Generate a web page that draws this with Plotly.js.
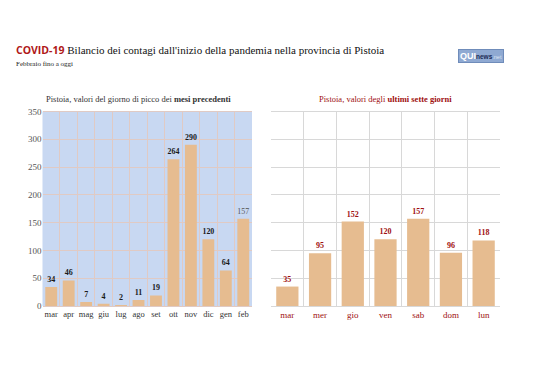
<!DOCTYPE html>
<html>
<head>
<meta charset="utf-8">
<script src="https://cdn.plot.ly/plotly-3.0.1.min.js"></script>
<style>html,body{margin:0;padding:0;background:#fff;}#chart{width:538px;height:380px;}</style>
</head>
<body>
<div id="chart"></div>
<script>
const monthLabels = ["mar","apr","mag","giu","lug","ago","set","ott","nov","dic","gen","feb"];
const monthValues = [34,46,7,4,2,11,19,264,290,120,64,157];
const dayLabels = ["mar","mer","gio","ven","sab","dom","lun"];
const dayValues = [35,95,152,120,157,96,118];
const yTicks = [0,50,100,150,200,250,300,350];

const W = 538, H = 380;
const px = x => x / W;
const py = y => 1 - y / H;
const serif = "Liberation Serif";
const barColor = "#e6bc90";

const monthText = monthValues.map((v,i) => i === monthValues.length - 1 ? String(v) : "<b>" + v + "</b>");
const monthTextColor = monthValues.map((v,i) => i === monthValues.length - 1 ? "#555555" : "#1a1a1a");

const traces = [
  {
    type: "bar", x: monthLabels, y: monthValues, xaxis: "x", yaxis: "y",
    marker: {color: barColor},
    text: monthText, textposition: "outside", cliponaxis: false,
    textfont: {family: serif, size: 8, color: monthTextColor},
    hoverinfo: "skip"
  },
  {
    type: "bar", x: dayLabels, y: dayValues, xaxis: "x2", yaxis: "y2",
    marker: {color: barColor},
    text: dayValues.map(v => "<b>" + v + "</b>"), textposition: "outside", cliponaxis: false,
    textfont: {family: serif, size: 8, color: "#a01010"},
    hoverinfo: "skip"
  }
];

const layout = {
  width: W, height: H,
  margin: {l: 0, r: 0, t: 0, b: 0},
  paper_bgcolor: "#ffffff",
  showlegend: false,
  bargap: 0.32,
  font: {family: serif},
  xaxis: {
    domain: [px(42.5), px(252)], anchor: "y",
    type: "category", tickson: "boundaries", ticks: "", showgrid: true,
    gridcolor: "#e0cac4", gridwidth: 1, tickangle: 0,
    showline: true, linecolor: "#e0cac4", mirror: true,
    tickfont: {family: serif, size: 8.5, color: "#333333"},
    fixedrange: true
  },
  yaxis: {
    domain: [py(306), py(111.5)], anchor: "x",
    range: [0, 350], tickvals: yTicks, ticks: "",
    showgrid: true, gridcolor: "#e0cac4", zeroline: false,
    tickfont: {family: serif, size: 9, color: "#555555"},
    fixedrange: true
  },
  xaxis2: {
    domain: [px(271), px(500)], anchor: "y2",
    type: "category", tickson: "boundaries", ticks: "", showgrid: true,
    gridcolor: "#d8d8d8", gridwidth: 1, tickangle: 0,
    showline: true, linecolor: "#d8d8d8", mirror: true,
    tickfont: {family: serif, size: 9, color: "#a01010"},
    fixedrange: true
  },
  yaxis2: {
    domain: [py(306), py(111.5)], anchor: "x2",
    range: [0, 350], tickvals: yTicks, showticklabels: false, ticks: "",
    showgrid: true, gridcolor: "#d8d8d8", zeroline: false,
    fixedrange: true
  },
  plot_bgcolor: "rgba(0,0,0,0)",
  shapes: [
    {type: "rect", xref: "x domain", yref: "y domain", x0: 0, x1: 1, y0: 0, y1: 1,
     fillcolor: "#c8d8f2", line: {width: 0}, layer: "below"}
  ],
  annotations: [
    {xref: "paper", yref: "paper", x: px(14), y: py(50), xanchor: "left", yanchor: "middle",
     showarrow: false,
     text: "<span style='font-family:Open Sans;font-weight:bold;font-size:10.5px;color:#b01818'>COVID-19</span> Bilancio dei contagi dall'inizio della pandemia nella provincia di Pistoia",
     font: {family: serif, size: 11, color: "#111111"}},
    {xref: "paper", yref: "paper", x: px(14), y: py(64), xanchor: "left", yanchor: "middle",
     showarrow: false, text: "Febbraio fino a oggi",
     font: {family: serif, size: 7, color: "#222222"}},
    {xref: "paper", yref: "paper", x: px(138), y: py(99), xanchor: "center", yanchor: "middle",
     showarrow: false, text: "Pistoia, valori del giorno di picco dei <b>mesi precedenti</b>",
     font: {family: serif, size: 8.5, color: "#333333"}},
    {xref: "paper", yref: "paper", x: px(385), y: py(99), xanchor: "center", yanchor: "middle",
     showarrow: false, text: "Pistoia, valori degli <b>ultimi sette giorni</b>",
     font: {family: serif, size: 8.5, color: "#a01010"}},
    {xref: "paper", yref: "paper", x: px(481), y: py(56), xanchor: "center", yanchor: "middle",
     showarrow: false,
     text: "<b>QUI</b><span style='color:#1c2c55;font-size:6.5px'><b>news</b></span><span style='color:#dde6f4;font-size:5.5px'>.net</span>",
     font: {family: "Liberation Sans", size: 9, color: "#ffffff"},
     bgcolor: "#8fa9d2", bordercolor: "#6f8cba", borderwidth: 1, borderpad: 1}
  ]
};

Plotly.newPlot("chart", traces, layout, {displayModeBar: false, staticPlot: true});
</script>
</body>
</html>
